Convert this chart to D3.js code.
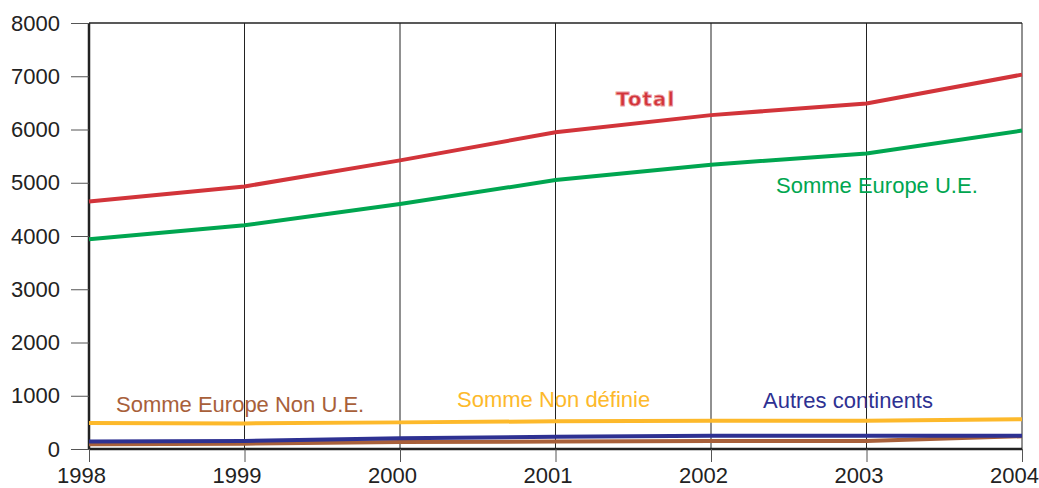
<!DOCTYPE html>
<html>
<head>
<meta charset="utf-8">
<script src="https://cdn.jsdelivr.net/npm/d3@7"></script>
<style>
  body { margin: 0; background: #fff; }
  svg text { font-family: "Liberation Sans", Arial, sans-serif; }
</style>
</head>
<body>
<svg id="chart"></svg>
<script>
const years = [1998, 1999, 2000, 2001, 2002, 2003, 2004];
const yTicks = [0, 1000, 2000, 3000, 4000, 5000, 6000, 7000, 8000];

const total = [4650, 4930, 5420, 5950, 6270, 6490, 7030];
const europeUE = [3940, 4200, 4600, 5050, 5340, 5550, 5980];
const nonDefinie = [490, 480, 500, 520, 530, 530, 560];
const autresContinents = [140, 150, 200, 230, 250, 250, 250];
const europeNonUE = [90, 100, 130, 140, 150, 150, 240];

const series = [
  { name: "Somme Europe Non U.E.", values: europeNonUE, color: "#a8603a" },
  { name: "Autres continents", values: autresContinents, color: "#2e3192" },
  { name: "Somme Non définie", values: nonDefinie, color: "#fdb92b" },
  { name: "Somme Europe U.E.", values: europeUE, color: "#00a650" },
  { name: "Total", values: total, color: "#d2343a" }
];

const W = 1039, H = 488;
const margin = { top: 23, right: 17, bottom: 39, left: 89 };
const width = W - margin.left - margin.right;
const height = H - margin.top - margin.bottom;

const svg = d3.select("#chart").attr("width", W).attr("height", H);
const g = svg.append("g").attr("transform", `translate(${margin.left},${margin.top})`);

const x = d3.scaleLinear().domain([1998, 2004]).range([0, width]);
const y = d3.scaleLinear().domain([0, 8000]).range([height, 0]);

// vertical grid lines
g.selectAll(".grid")
  .data(years)
  .enter()
  .append("line")
  .attr("x1", d => x(d)).attr("x2", d => x(d))
  .attr("y1", 0).attr("y2", height)
  .attr("stroke", "#222").attr("stroke-width", 1);

// top border
g.append("line")
  .attr("x1", 0).attr("x2", width).attr("y1", 0).attr("y2", 0)
  .attr("stroke", "#222").attr("stroke-width", 1.5);

// axes
const xAxis = g.append("g")
  .attr("transform", `translate(0,${height})`)
  .call(d3.axisBottom(x).tickValues(years).tickFormat(d3.format("d")).tickSize(13).tickPadding(5));
const yAxis = g.append("g")
  .call(d3.axisLeft(y).tickValues(yTicks).tickFormat(d3.format("d")).tickSize(18).tickPadding(11));

[xAxis, yAxis].forEach(a => {
  a.attr("font-size", null).attr("font-family", null);
  a.select(".domain").attr("stroke", "#222").attr("stroke-width", 2.5);
  a.selectAll(".tick line").attr("stroke", "#555").attr("stroke-width", 1);
  a.selectAll("text").style("font-size", "22px").attr("fill", "#222");
});
xAxis.selectAll("text").attr("x", -8);
xAxis.select(".domain").attr("d", `M0,0H${width}`);
yAxis.select(".domain").attr("d", `M0,0V${height}`);

// lines
const line = d3.line().x((d, i) => x(years[i])).y(d => y(d));
g.selectAll(".series")
  .data(series)
  .enter()
  .append("path")
  .attr("d", d => line(d.values))
  .attr("fill", "none")
  .attr("stroke", d => d.color)
  .attr("stroke-width", 4);

// labels
const labels = [
  { text: "Total", x: 616, y: 106, color: "#d2343a", bold: true },
  { text: "Somme Europe U.E.", x: 776, y: 193, color: "#00a650" },
  { text: "Somme Europe Non U.E.", x: 116, y: 412, color: "#a8603a" },
  { text: "Somme Non définie", x: 457, y: 407, color: "#fdb92b" },
  { text: "Autres continents", x: 763, y: 408, color: "#2e3192" }
];
svg.selectAll(".lbl")
  .data(labels)
  .enter()
  .append("text")
  .attr("x", d => d.x).attr("y", d => d.y)
  .attr("fill", d => d.color)
  .style("font-size", d => d.bold ? "19.5px" : "22px")
  .style("font-family", d => d.bold ? "'DejaVu Sans', sans-serif" : null)
  .style("letter-spacing", d => d.bold ? "1.2px" : null)
  .attr("font-weight", d => d.bold ? "bold" : "normal")
  .attr("stroke", d => d.bold ? "#ea9a9e" : "none")
  .attr("stroke-width", d => d.bold ? 0.8 : 0)
  .text(d => d.text);
</script>
</body>
</html>
